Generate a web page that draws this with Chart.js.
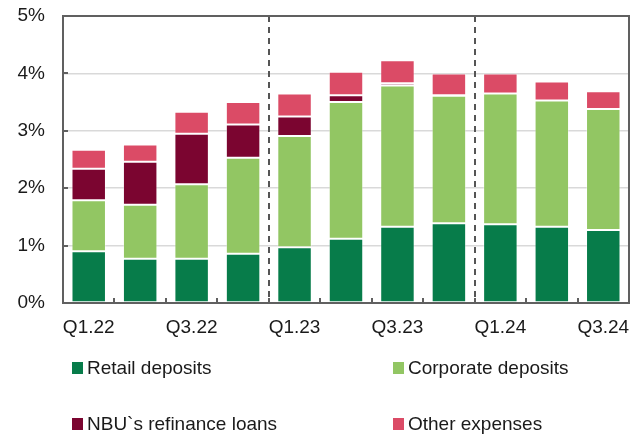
<!DOCTYPE html>
<html lang="en">
<head>
    <meta charset="UTF-8">
    <title>Funding cost structure</title>
    <script src="https://cdn.jsdelivr.net/npm/chart.js"></script>
    <style>
        html, body { margin: 0; padding: 0; background: #fff; }
        #wrap { width: 640px; height: 434px; position: relative; }
    </style>
</head>
<body>
<div id="wrap"><canvas id="costChart" width="640" height="434"></canvas></div>

<script>
    // quarters on the x axis (only every second one gets a label)
    const quarters = ['Q1.22', 'Q2.22', 'Q3.22', 'Q4.22', 'Q1.23', 'Q2.23', 'Q3.23', 'Q4.23', 'Q1.24', 'Q2.24', 'Q3.24'];

    // contributions, % of funding
    const retailDeposits    = [0.90, 0.77, 0.77, 0.86, 0.97, 1.12, 1.33, 1.39, 1.37, 1.33, 1.27];
    const corporateDeposits = [0.89, 0.94, 1.30, 1.67, 1.94, 2.38, 2.46, 2.22, 2.28, 2.20, 2.11];
    const nbuLoans          = [0.55, 0.75, 0.88, 0.58, 0.34, 0.12, 0.04, 0.01, 0.00, 0.00, 0.00];
    const otherExpenses     = [0.33, 0.30, 0.38, 0.39, 0.40, 0.41, 0.40, 0.38, 0.35, 0.33, 0.31];

    const yTicks = [0, 1, 2, 3, 4, 5];
    // dashed year separators sit before these category indexes
    const yearBreaks = [4, 8];

    const FONT = 'Liberation Sans, Arial, sans-serif';
    const FONT_SIZE = 19;

    function ds(label, data, color) {
        return {
            label: label,
            data: data,
            backgroundColor: color,
            borderColor: 'rgba(255,255,255,0.35)',
            borderWidth: 1,
            borderSkipped: false,
            categoryPercentage: 1.0,
            barPercentage: 0.67
        };
    }

    // frame, inward ticks, dashed separators and the two-column legend
    const decorations = {
        id: 'decorations',
        beforeDatasetsDraw(chart) {
            const ctx = chart.ctx;
            const x = chart.scales.x;
            const area = chart.chartArea;
            ctx.save();
            ctx.strokeStyle = '#555';
            ctx.lineWidth = 2;
            ctx.setLineDash([6, 5]);
            yearBreaks.forEach(i => {
                const px = Math.round((x.getPixelForValue(i - 1) + x.getPixelForValue(i)) / 2);
                ctx.beginPath();
                ctx.moveTo(px, area.top);
                ctx.lineTo(px, area.bottom);
                ctx.stroke();
            });
            ctx.restore();
        },
        afterDraw(chart) {
            const ctx = chart.ctx;
            const x = chart.scales.x;
            const y = chart.scales.y;
            const area = chart.chartArea;
            ctx.save();
            ctx.strokeStyle = '#606060';
            ctx.lineWidth = 2;
            ctx.strokeRect(area.left, area.top, area.right - area.left, area.bottom - area.top);

            // category boundary ticks pointing up
            ctx.beginPath();
            for (let i = 1; i < quarters.length; i++) {
                const px = Math.round((x.getPixelForValue(i - 1) + x.getPixelForValue(i)) / 2);
                ctx.moveTo(px, area.bottom);
                ctx.lineTo(px, area.bottom - 5);
            }
            // value ticks pointing right
            yTicks.forEach(v => {
                const py = Math.round(y.getPixelForValue(v));
                ctx.moveTo(area.left, py);
                ctx.lineTo(area.left + 5, py);
            });
            ctx.stroke();

            // legend, two columns
            const spots = [[72, 368], [393, 368], [72, 424], [393, 424]];
            ctx.font = FONT_SIZE + 'px ' + FONT;
            ctx.textBaseline = 'middle';
            ctx.textAlign = 'left';
            chart.data.datasets.forEach((d, i) => {
                const [lx, ly] = spots[i];
                ctx.fillStyle = d.backgroundColor;
                ctx.fillRect(lx, ly - 6, 11, 12);
                ctx.fillStyle = '#1a1a1a';
                ctx.fillText(d.label, lx + 15, ly + 1);
            });
            ctx.restore();
        }
    };

    const ctx = document.getElementById('costChart').getContext('2d');
    const chart = new Chart(ctx, {
        type: 'bar',
        data: {
            labels: quarters,
            datasets: [
                ds('Retail deposits', retailDeposits, '#077c4a'),
                ds('Corporate deposits', corporateDeposits, '#92c663'),
                ds('NBU`s refinance loans', nbuLoans, '#7b0530'),
                ds('Other expenses', otherExpenses, '#db4b66')
            ]
        },
        options: {
            responsive: false,
            animation: false,
            layout: { padding: { top: 16, right: 11, left: 0, bottom: 0 } },
            plugins: {
                legend: { display: false },
                tooltip: { enabled: false }
            },
            scales: {
                x: {
                    stacked: true,
                    grid: { display: false, drawTicks: false },
                    border: { display: false },
                    afterFit: s => { s.height = 131; s.paddingLeft = 0; s.paddingRight = 0; },
                    ticks: {
                        autoSkip: false,
                        maxRotation: 0,
                        padding: 13,
                        color: '#1a1a1a',
                        font: { family: FONT, size: FONT_SIZE },
                        callback: (v, i) => (i % 2 === 0 ? quarters[i] : '')
                    }
                },
                y: {
                    stacked: true,
                    min: 0,
                    max: 5,
                    grid: { color: '#d9d9d9', lineWidth: 1.5, drawTicks: false },
                    border: { display: false },
                    // fixed gutter; no extra room for the half-height of the 5% label
                    afterFit: s => { s.width = 63; s.paddingTop = 0; s.paddingBottom = 0; },
                    afterBuildTicks: s => { s.ticks = yTicks.map(v => ({ value: v })); },
                    ticks: {
                        padding: 18,
                        color: '#1a1a1a',
                        font: { family: FONT, size: FONT_SIZE },
                        callback: v => v + '%'
                    }
                }
            }
        },
        plugins: [decorations]
    });
</script>
</body>
</html>
